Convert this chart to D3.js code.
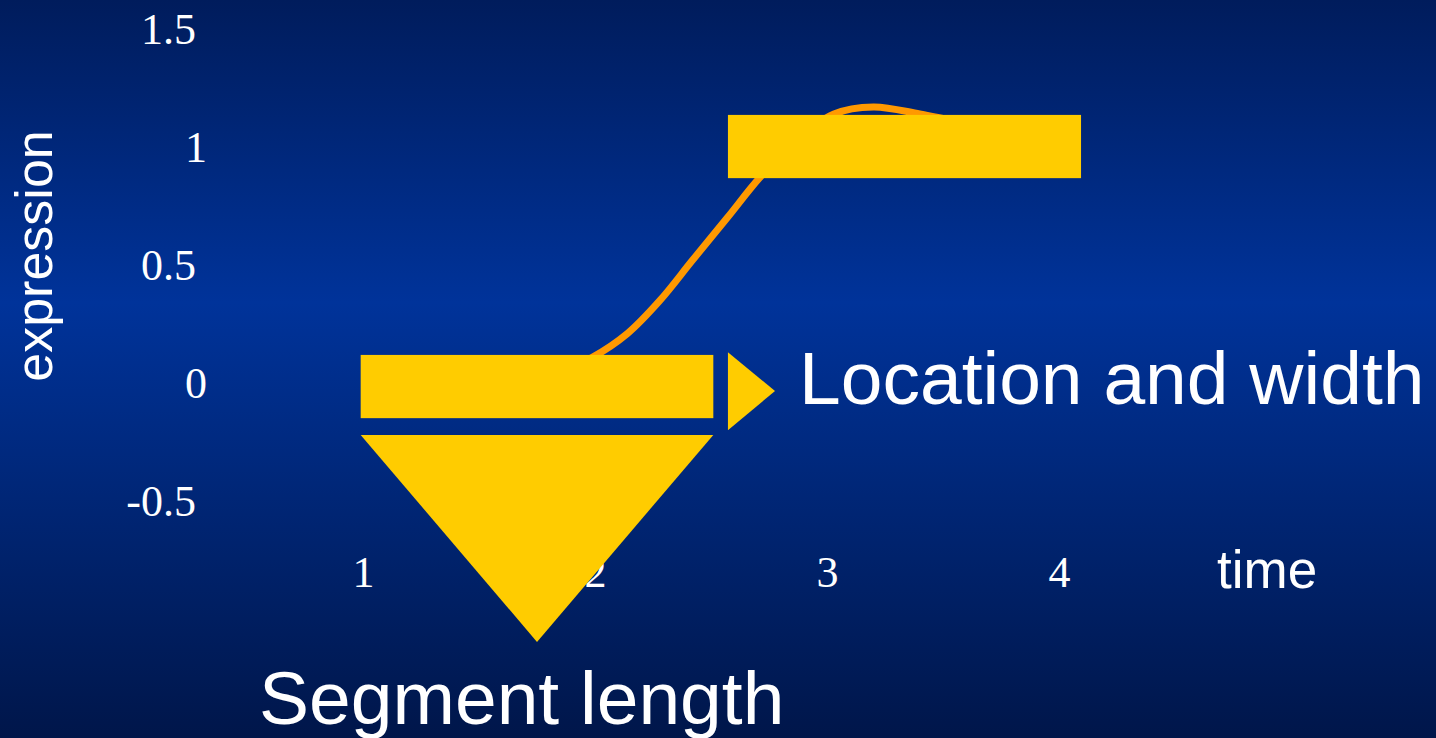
<!DOCTYPE html>
<html>
<head>
<meta charset="utf-8">
<script src="https://cdn.jsdelivr.net/npm/d3@7"></script>
<style>
  body { margin: 0; overflow: hidden; }
</style>
</head>
<body>
<div id="chart"></div>
<script>
// tick values
const yTicks = [-0.5, 0, 0.5, 1, 1.5];
const xTicks = [1, 2, 3, 4];

// expression curve
const curveTime = [1.8, 1.99, 2.14, 2.28, 2.42, 2.57, 2.71, 2.86, 3.03, 3.2, 3.4, 3.6];
const curveExpr = [0.03, 0.11, 0.21, 0.35, 0.52, 0.70, 0.87, 1.02, 1.14, 1.17, 1.14, 1.10];

// segments (start, end, level) and their half height
const segStart = [0.99, 2.573];
const segEnd = [2.51, 4.095];
const segLevel = [-0.015, 1.002];
const segHalf = 0.134;

// "segment length" arrow: top edge and apex
const downArrow = { t0: 0.99, t1: 2.51, top: -0.22, apexT: 1.75, apexV: -1.097 };
// "location and width" arrow
const rightArrow = { t0: 2.573, apexT: 2.776, top: 0.13, bottom: -0.20, apexV: -0.034 };

const width = 1436;
const height = 738;

const svg = d3.select("#chart")
  .append("svg")
  .attr("width", width)
  .attr("height", height);

const grad = svg.append("defs").append("linearGradient")
  .attr("id", "bg")
  .attr("x1", 0).attr("y1", 0).attr("x2", 0).attr("y2", 1);
grad.append("stop").attr("offset", "0%").attr("stop-color", "#001c5c");
grad.append("stop").attr("offset", "41%").attr("stop-color", "#00339a");
grad.append("stop").attr("offset", "100%").attr("stop-color", "#00164a");

svg.append("rect")
  .attr("width", width)
  .attr("height", height)
  .attr("fill", "url(#bg)");

const x = d3.scaleLinear().domain([1, 4]).range([363, 1059]);
const y = d3.scaleLinear().domain([-0.5, 1.5]).range([501, 29]);

const serif = "'Liberation Serif', 'Times New Roman', serif";
const sans = "'Liberation Sans', Arial, sans-serif";

// y axis
const yAxis = svg.append("g")
  .attr("transform", "translate(207,0)")
  .call(d3.axisLeft(y).tickValues(yTicks).tickSize(0).tickPadding(0).tickFormat(d => String(d)));
yAxis.select(".domain").remove();
yAxis.selectAll("text")
  .attr("x", d => Number.isInteger(d) ? 0 : -11)
  .attr("dy", "0.34em")
  .attr("fill", "#fff")
  .style("font-family", serif)
  .style("font-size", "44px");

// x axis
const xAxis = svg.append("g")
  .attr("transform", "translate(0,587)")
  .call(d3.axisBottom(x).tickValues(xTicks).tickSize(0).tickPadding(0).tickFormat(d => String(d)));
xAxis.select(".domain").remove();
xAxis.selectAll("text")
  .attr("y", 0)
  .attr("dy", 0)
  .attr("fill", "#fff")
  .style("font-family", serif)
  .style("font-size", "44px");

// axis titles
svg.append("text")
  .attr("x", 1217)
  .attr("y", 588)
  .attr("fill", "#fff")
  .style("font-family", sans)
  .style("font-size", "53px")
  .text("time");

svg.append("text")
  .attr("transform", "translate(52,256) rotate(-90)")
  .attr("text-anchor", "middle")
  .attr("fill", "#fff")
  .style("font-family", sans)
  .style("font-size", "52px")
  .text("expression");

// curve
const line = d3.line()
  .x(d => x(d[0]))
  .y(d => y(d[1]))
  .curve(d3.curveCatmullRom.alpha(0.5));

svg.append("path")
  .datum(curveTime.map((t, i) => [t, curveExpr[i]]))
  .attr("d", line)
  .attr("fill", "none")
  .attr("stroke", "#ff9900")
  .attr("stroke-width", 7);

// segments
svg.selectAll("rect.seg")
  .data(segStart)
  .enter()
  .append("rect")
  .attr("class", "seg")
  .attr("x", (d, i) => x(segStart[i]))
  .attr("y", (d, i) => y(segLevel[i] + segHalf))
  .attr("width", (d, i) => x(segEnd[i]) - x(segStart[i]))
  .attr("height", (d, i) => y(segLevel[i] - segHalf) - y(segLevel[i] + segHalf))
  .attr("fill", "#ffcc00");

// arrows
const tri = d3.line().x(d => x(d[0])).y(d => y(d[1]));
svg.append("path")
  .attr("d", tri([
    [downArrow.t0, downArrow.top],
    [downArrow.t1, downArrow.top],
    [downArrow.apexT, downArrow.apexV]
  ]) + "Z")
  .attr("fill", "#ffcc00");

svg.append("path")
  .attr("d", tri([
    [rightArrow.t0, rightArrow.top],
    [rightArrow.apexT, rightArrow.apexV],
    [rightArrow.t0, rightArrow.bottom]
  ]) + "Z")
  .attr("fill", "#ffcc00");

// labels
svg.append("text")
  .attr("x", 799)
  .attr("y", 404)
  .attr("fill", "#fff")
  .style("font-family", sans)
  .style("font-size", "75px")
  .text("Location and width");

svg.append("text")
  .attr("x", 259)
  .attr("y", 724)
  .attr("fill", "#fff")
  .style("font-family", sans)
  .style("font-size", "75px")
  .text("Segment length");
</script>
</body>
</html>
